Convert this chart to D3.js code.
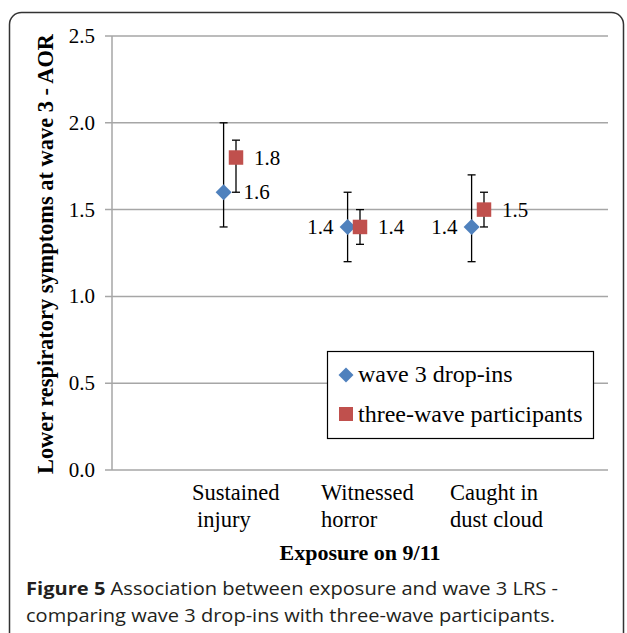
<!DOCTYPE html>
<html>
<head>
<meta charset="utf-8">
<script src="https://d3js.org/d3.v7.min.js"></script>
<style>
body { margin: 0; background: #fff; }
</style>
</head>
<body>
<div id="chart"></div>
<script>
var categories = [["Sustained", "injury"], ["Witnessed", "horror"], ["Caught in", "dust cloud"]];
var dropIns = [1.6, 1.4, 1.4];
var dropInsLow = [1.4, 1.2, 1.2];
var dropInsHigh = [2.0, 1.6, 1.7];
var threeWave = [1.8, 1.4, 1.5];
var threeWaveLow = [1.6, 1.3, 1.4];
var threeWaveHigh = [1.9, 1.5, 1.6];
var yTicks = [0, 0.5, 1.0, 1.5, 2.0, 2.5];

var w = 627;
var h = 633;
var blue = "#4f81bd";
var red = "#c0504d";
var serif = "'Liberation Serif', 'Times New Roman', serif";

var svg = d3.select("#chart")
    .append("svg")
    .attr("width", w)
    .attr("height", h);

// frame around the figure
svg.append("rect")
    .attr("x", 9.5).attr("y", 12.5)
    .attr("width", 614).attr("height", 700)
    .attr("rx", 12)
    .attr("fill", "none")
    .attr("stroke", "#333")
    .attr("stroke-width", 1.5);

var x = d3.scaleLinear().domain([0, 4]).range([112, 608]);
var y = d3.scaleLinear().domain([0, 2.5]).range([470, 36]);

// gridlines
svg.selectAll("line.grid")
    .data(yTicks)
    .enter()
    .append("line")
    .attr("class", "grid")
    .attr("x1", 105).attr("x2", 608)
    .attr("y1", function(d) { return y(d); })
    .attr("y2", function(d) { return y(d); })
    .attr("stroke", "#a6a6a6")
    .attr("stroke-width", 1.5);

svg.append("line")
    .attr("x1", 112).attr("x2", 112)
    .attr("y1", y(2.5)).attr("y2", y(0))
    .attr("stroke", "#a6a6a6")
    .attr("stroke-width", 1.5);

svg.selectAll("text.ytick")
    .data(yTicks)
    .enter()
    .append("text")
    .attr("class", "ytick")
    .attr("x", 95)
    .attr("y", function(d) { return y(d) + 7; })
    .attr("text-anchor", "end")
    .attr("font-family", serif)
    .attr("font-size", 21)
    .text(function(d) { return d.toFixed(1); });

// category labels
var cats = svg.selectAll("text.cat")
    .data(categories)
    .enter()
    .append("text")
    .attr("class", "cat")
    .attr("font-family", serif)
    .attr("font-size", 22.5)
    .attr("y", 500);
cats.selectAll("tspan")
    .data(function(d, i) { return d.map(function(s) { return {s: s, i: i}; }); })
    .enter()
    .append("tspan")
    .attr("x", function(d, j) { return x(d.i + 1) - 44 + d.i * 5 + (d.i == 0 && j == 1 ? 5 : 0); })
    .attr("dy", function(d, j) { return j == 0 ? 0 : 27; })
    .text(function(d) { return d.s; });

// axis titles
svg.append("text")
    .attr("x", 360).attr("y", 560)
    .attr("text-anchor", "middle")
    .attr("font-family", serif)
    .attr("font-size", 22)
    .attr("font-weight", "bold")
    .text("Exposure on 9/11");

svg.append("text")
    .attr("transform", "translate(53,254) rotate(-90)")
    .attr("text-anchor", "middle")
    .attr("font-family", serif)
    .attr("font-size", 22.4)
    .attr("font-weight", "bold")
    .text("Lower respiratory symptoms at wave 3 - AOR");

// excel-style diamond: a square turned 45 degrees
var diamond = function(size) {
    return d3.symbol().type(d3.symbolSquare).size(size)();
};

var series = [
    {vals: dropIns, lo: dropInsLow, hi: dropInsHigh, off: -0.1, color: blue, rot: 45, size: 128},
    {vals: threeWave, lo: threeWaveLow, hi: threeWaveHigh, off: 0, color: red, rot: 0, size: 210}
];

series.forEach(function(s, k) {
    var g = svg.append("g");
    s.vals.forEach(function(v, i) {
        var cx = x(i + 1 + s.off);
        g.append("line")
            .attr("x1", cx).attr("x2", cx)
            .attr("y1", y(s.lo[i])).attr("y2", y(s.hi[i]))
            .attr("stroke", "#000").attr("stroke-width", 1.3);
        [s.lo[i], s.hi[i]].forEach(function(e) {
            g.append("line")
                .attr("x1", cx - 4).attr("x2", cx + 4)
                .attr("y1", y(e)).attr("y2", y(e))
                .attr("stroke", "#000").attr("stroke-width", 1.3);
        });
        g.append("path")
            .attr("transform", "translate(" + cx + "," + y(v) + ") rotate(" + s.rot + ")")
            .attr("d", diamond(s.size))
            .attr("fill", s.color);
        var left = (k == 0 && i > 0);
        g.append("text")
            .attr("x", left ? cx - 14 : cx + (k == 0 ? 20 : 18))
            .attr("y", y(v) + 7)
            .attr("text-anchor", left ? "end" : "start")
            .attr("font-family", serif)
            .attr("font-size", 21)
            .text(v.toFixed(1));
    });
});

// legend
var lg = svg.append("g");
lg.append("rect")
    .attr("x", 327.5).attr("y", 351.5)
    .attr("width", 266).attr("height", 87)
    .attr("fill", "#fff")
    .attr("stroke", "#000")
    .attr("stroke-width", 1.2);
lg.append("path")
    .attr("transform", "translate(346,375) rotate(45)")
    .attr("d", diamond(112))
    .attr("fill", blue);
lg.append("rect")
    .attr("x", 339).attr("y", 407).attr("width", 14).attr("height", 14)
    .attr("fill", red);
lg.append("text")
    .attr("x", 358).attr("y", 382)
    .attr("font-family", serif).attr("font-size", 24)
    .text("wave 3 drop-ins");
lg.append("text")
    .attr("x", 358).attr("y", 422)
    .attr("font-family", serif).attr("font-size", 24)
    .text("three-wave participants");

// caption
var cap = svg.append("g")
    .attr("font-family", "'Open Sans', 'Noto Sans', sans-serif")
    .attr("font-size", 18)
    .attr("fill", "#231f20");
var c1 = cap.append("text").attr("x", 26).attr("y", 595)
    .attr("textLength", 532).attr("lengthAdjust", "spacingAndGlyphs");
c1.append("tspan").attr("font-weight", "bold").text("Figure 5");
c1.append("tspan").text(" Association between exposure and wave 3 LRS -");
cap.append("text").attr("x", 26).attr("y", 622)
    .attr("textLength", 529).attr("lengthAdjust", "spacingAndGlyphs")
    .text("comparing wave 3 drop-ins with three-wave participants.");
</script>
</body>
</html>
